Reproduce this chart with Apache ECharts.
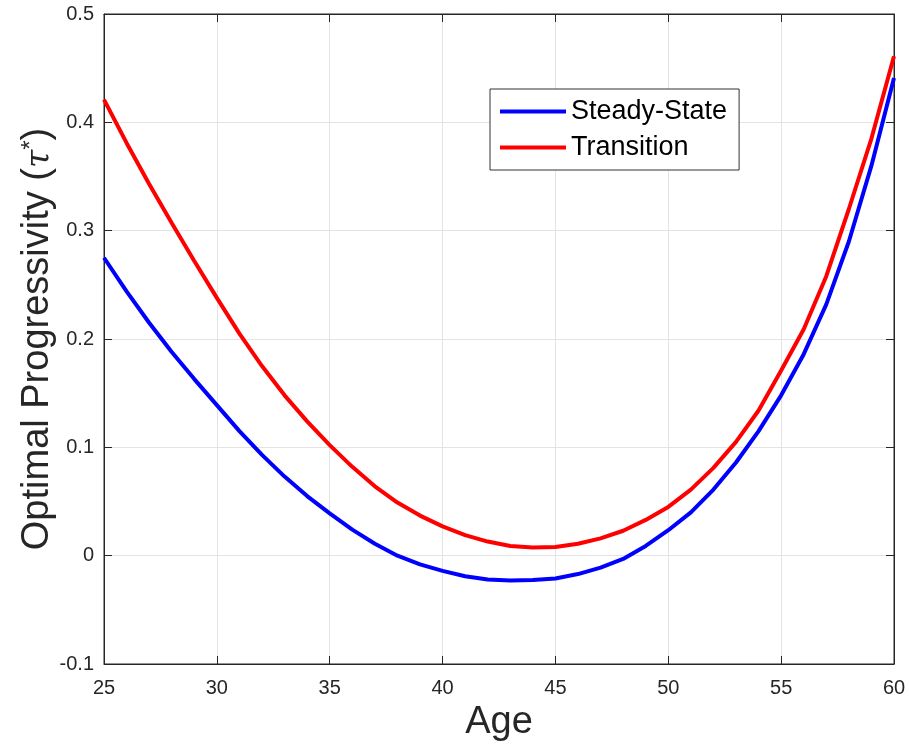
<!DOCTYPE html>
<html>
<head>
<meta charset="utf-8">
<script src="https://cdn.jsdelivr.net/npm/echarts@6/dist/echarts.min.js"></script>
<style>html,body{margin:0;padding:0;background:#fff}#c{width:909px;height:744px}</style>
</head>
<body>
<div id="c"></div>
<script>
const ages = [25,26,27,28,29,30,31,32,33,34,35,36,37,38,39,40,41,42,43,44,45,46,47,48,49,50,51,52,53,54,55,56,57,58,59,60];
const steadyState = [0.275,0.244,0.215,0.188,0.163,0.139,0.115,0.093,0.073,0.055,0.039,0.024,0.011,0.000,-0.008,-0.014,-0.019,-0.022,-0.023,-0.0225,-0.021,-0.017,-0.011,-0.003,0.009,0.0235,0.040,0.061,0.086,0.115,0.148,0.186,0.232,0.290,0.360,0.441];
const transition = [0.421,0.381,0.343,0.307,0.272,0.238,0.205,0.175,0.148,0.124,0.102,0.082,0.064,0.049,0.037,0.027,0.019,0.013,0.009,0.0075,0.008,0.011,0.016,0.023,0.033,0.045,0.061,0.081,0.105,0.134,0.171,0.209,0.258,0.320,0.385,0.461];
const seriesNames = ['Steady-State','Transition'];
const xTitle = 'Age';
const yTitle = 'Optimal Progressivity (';

const font = 'Liberation Sans, Arial, Helvetica, sans-serif';
const axisCol = '#262626';
const gridCol = '#e3e3e3';

const chart = echarts.init(document.getElementById('c'), null, {renderer:'canvas'});
const pair = a => ages.map((x,i)=>[x,a[i]]);
const fmt = v => String(+v.toFixed(1));

chart.setOption({
  animation:false,
  backgroundColor:'#fff',
  grid:{left:104,right:15,top:14,bottom:80,containLabel:false,outerBoundsMode:'none',
        show:true,borderColor:axisCol,borderWidth:1,backgroundColor:'transparent'},
  legend:{
    orient:'vertical', left:490, top:89,
    padding:[9,12,9,10], itemGap:9,
    itemWidth:66, itemHeight:4, icon:'rect',
    borderColor:'#333', borderWidth:1, backgroundColor:'#fff',
    textStyle:{fontFamily:font,fontSize:27,color:'#000'},
    data:seriesNames
  },
  xAxis:[{
    type:'value', min:25, max:60, interval:5,
    name:xTitle, nameLocation:'middle', nameGap:40, nameMoveOverlap:false,
    nameTextStyle:{fontFamily:font,fontSize:38,color:axisCol},
    axisLine:{show:true,onZero:false,lineStyle:{color:axisCol,width:1}},
    axisTick:{show:true,inside:true,length:8,lineStyle:{color:axisCol}},
    axisLabel:{fontFamily:font,fontSize:20,color:axisCol,margin:14,formatter:fmt},
    splitLine:{show:true,lineStyle:{color:gridCol,width:1}}
  },{
    type:'value', min:25, max:60, interval:5, position:'top',
    axisLine:{show:true,onZero:false,lineStyle:{color:axisCol,width:1}},
    axisTick:{show:true,inside:true,length:8,lineStyle:{color:axisCol}},
    axisLabel:{show:false}, splitLine:{show:false}
  }],
  yAxis:[{
    type:'value', min:-0.1, max:0.5, interval:0.1,
    name:yTitle + '{t|τ}{s|*}{p|)}', nameLocation:'middle', nameGap:47, nameRotate:90, nameMoveOverlap:false,
    nameTextStyle:{fontFamily:font,fontSize:38,color:axisCol,
      rich:{
        t:{fontFamily:'DejaVu Serif, serif',fontStyle:'italic',fontSize:33,color:axisCol,verticalAlign:'bottom'},
        s:{fontFamily:font,fontSize:24,color:axisCol,verticalAlign:'top'},
        p:{fontFamily:font,fontSize:38,color:axisCol}
      }},
    axisLine:{show:true,onZero:false,lineStyle:{color:axisCol,width:1}},
    axisTick:{show:true,inside:true,length:8,lineStyle:{color:axisCol}},
    axisLabel:{fontFamily:font,fontSize:20,color:axisCol,margin:10,formatter:fmt},
    splitLine:{show:true,lineStyle:{color:gridCol,width:1}}
  },{
    type:'value', min:-0.1, max:0.5, interval:0.1, position:'right',
    axisLine:{show:true,onZero:false,lineStyle:{color:axisCol,width:1}},
    axisTick:{show:true,inside:true,length:8,lineStyle:{color:axisCol}},
    axisLabel:{show:false}, splitLine:{show:false}
  }],
  series:[
    {name:seriesNames[0],type:'line',data:pair(steadyState),showSymbol:false,symbol:'none',
     lineStyle:{color:'#0000ff',width:4},itemStyle:{color:'#0000ff'},z:3},
    {name:seriesNames[1],type:'line',data:pair(transition),showSymbol:false,symbol:'none',
     lineStyle:{color:'#ff0000',width:4},itemStyle:{color:'#ff0000'},z:4}
  ]
});
</script>
</body>
</html>
